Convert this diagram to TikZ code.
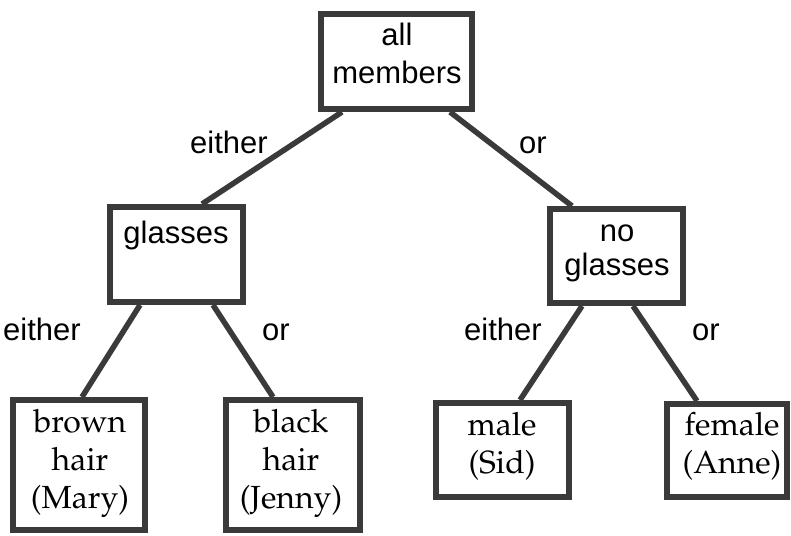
\documentclass[tikz,border=0pt]{standalone}
\usepackage[T1]{fontenc}
\usepackage{fontspec}
\setsansfont{Liberation Sans}
\newcommand\palfont{\fontencoding{T1}\fontfamily{ppl}\selectfont}
\definecolor{ink}{HTML}{3A3A3A}
\tikzset{
  treebox/.style={draw=ink, line width=6pt, rectangle, inner sep=0pt},
  conn/.style={draw=ink, line width=5.5pt},
  sanstext/.style={font=\sffamily\fontsize{31}{38}\selectfont, align=center, inner sep=0pt, anchor=base},
  sanstextb/.style={font=\sffamily\fontsize{31}{34}\selectfont, align=center, inner sep=0pt, anchor=base},
  sertext/.style={font=\palfont\fontsize{32}{38}\selectfont, align=center, inner sep=0pt, anchor=base},
  edgelabel/.style={font=\sffamily\fontsize{31}{38}\selectfont, inner sep=0pt, anchor=base}
}
\begin{document}
\begin{tikzpicture}[x=1pt,y=-1pt]
\useasboundingbox[fill=white] (0,0) rectangle (791,535);
% boxes
\node[treebox, minimum width=151pt, minimum height=95pt] (top) at (396.5,61.5) {};
\node[treebox, minimum width=133pt, minimum height=95pt] (gl) at (176.5,254.5) {};
\node[treebox, minimum width=133pt, minimum height=94pt] (ng) at (616.5,256) {};
\node[treebox, minimum width=132pt, minimum height=130pt] (brown) at (79,465) {};
\node[treebox, minimum width=134pt, minimum height=130pt] (black) at (293,465) {};
\node[treebox, minimum width=133pt, minimum height=94pt] (male) at (502.5,450) {};
\node[treebox, minimum width=120pt, minimum height=93pt] (female) at (727,450.5) {};
% texts (anchor = baseline of last line)
\node[sanstext] (ttop) at (397,83) {all\\members};
\node[sanstext] (tgl) at (176,243) {glasses};
\node[sanstextb] (tng) at (617,275) {no\\glasses};
\node[sertext] (tbrown) at (80,508) {brown\\hair\\(Mary)};
\node[sertext] (tblack) at (291,508) {black\\hair\\(Jenny)};
\node[sertext] (tmale) at (502,473) {male\\(Sid)};
\node[sertext] (tfemale) at (732,473) {female\\(Anne)};
% connectors
\draw[conn] ([xshift=-54.5pt]top.south) -- ([xshift=25.5pt]gl.north);
\draw[conn] ([xshift=53.5pt]top.south) -- ([xshift=-44.5pt]ng.north);
\draw[conn] ([xshift=-36.5pt]gl.south) -- ([xshift=3pt]brown.north);
\draw[conn] ([xshift=36.5pt]gl.south) -- ([xshift=-20pt]black.north);
\draw[conn] ([xshift=-34.5pt]ng.south) -- ([xshift=17.5pt]male.north);
\draw[conn] ([xshift=16.5pt]ng.south) -- ([xshift=-30pt]female.north);
% edge labels
\node[edgelabel] (l1) at (229,153) {either};
\node[edgelabel] (l2) at (533,153) {or};
\node[edgelabel] (l3) at (42,340) {either};
\node[edgelabel] (l4) at (276,340) {or};
\node[edgelabel] (l5) at (503,340) {either};
\node[edgelabel] (l6) at (706,340) {or};
\end{tikzpicture}
\end{document}
